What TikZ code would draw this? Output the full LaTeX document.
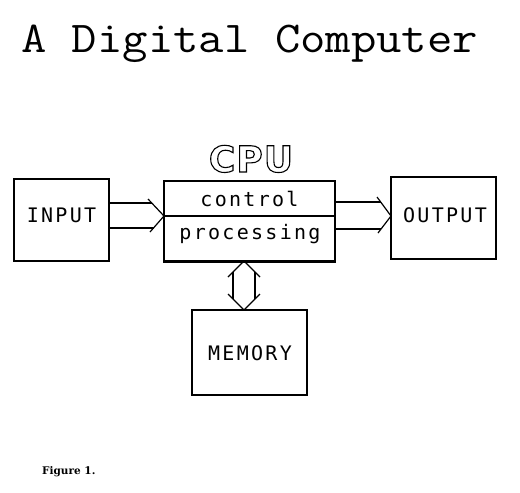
\documentclass[tikz,border=0pt]{standalone}
\usepackage{fontspec}
\newfontfamily\lblfont[LetterSpace=11.5]{DejaVu Sans Mono}
\newfontfamily\cpufont[LetterSpace=3]{DejaVu Sans}
\newfontfamily\figfont{DejaVu Serif}
\newcommand{\outlinetext}[1]{\special{pdf:literal direct 1 Tr 1.1 w}#1\special{pdf:literal direct 0 Tr}}
\begin{document}
\begin{tikzpicture}[x=1pt,y=-1pt,
  box/.style={draw,line width=1.3pt,minimum width=#1,inner sep=0pt},
  lbl/.style={anchor=base,inner sep=0pt,font=\lblfont\fontsize{20}{20}\selectfont},
  arr/.style={line width=1.2pt,line join=miter}]
\useasboundingbox (0,0) rectangle (520,493);
% title
\node[anchor=base west,inner sep=0pt,xscale=1.12,font=\ttfamily\fontsize{44}{44}\selectfont\addfontfeature{FakeBold=2.5}] (title) at (21,52) {A Digital Computer};
% boxes
\node[box=95pt,minimum height=82pt] (input) at (61.5,220) {};
\node[box=171pt,minimum height=80pt] (cpu) at (249.5,221) {};
\node[box=105pt,minimum height=82pt] (output) at (443.5,218) {};
\node[box=115pt,minimum height=85pt] (memory) at (249.5,352.5) {};
\draw[line width=2.6pt] (cpu.west |- 0,216) coordinate (dl) -- (cpu.east |- 0,216) coordinate (dr);
\draw[line width=2.6pt] (cpu.south west) -- (cpu.south east);
% labels
\node[lbl] (tin) at (61.5,222) {INPUT};
\node[lbl] (tctl) at (249.5,206) {control};
\node[lbl] (tproc) at (250,239) {processing};
\node[lbl] (tout) at (445,222) {OUTPUT};
\node[lbl] (tmem) at (250,360) {MEMORY};
\node[anchor=base,inner sep=0pt,font=\cpufont\bfseries\fontsize{36}{36}\selectfont] (cpulbl) at (251,172) {\outlinetext{CPU}};
\node[anchor=base west,inner sep=0pt,font=\figfont\bfseries\fontsize{10.5}{10.5}\selectfont] (fig) at (42,474) {Figure 1.};
% input arrow
\coordinate (ia) at (164,216);
\draw[arr] (input.east |- 0,203) -- (151.8,203);
\draw[arr] (input.east |- 0,228) -- (153.5,228);
\draw[arr] (148,199) -- (ia) -- (150,232);
% output arrow
\coordinate (oa) at (391,216);
\draw[arr] (cpu.east |- 0,202) -- (380.7,202);
\draw[arr] (cpu.east |- 0,229) -- (381,229);
\draw[arr] (377,197) -- (oa) -- (378,233);
% memory arrow
\coordinate (mt) at (244,261);
\coordinate (mb) at (244,310);
\draw[arr] (228,277) -- (mt) -- (260,277);
\draw[arr] (228,294) -- (mb) -- (260,294);
\draw[arr] (233,272) -- (233,299);
\draw[arr] (255,272) -- (255,299);
\end{tikzpicture}
\end{document}
